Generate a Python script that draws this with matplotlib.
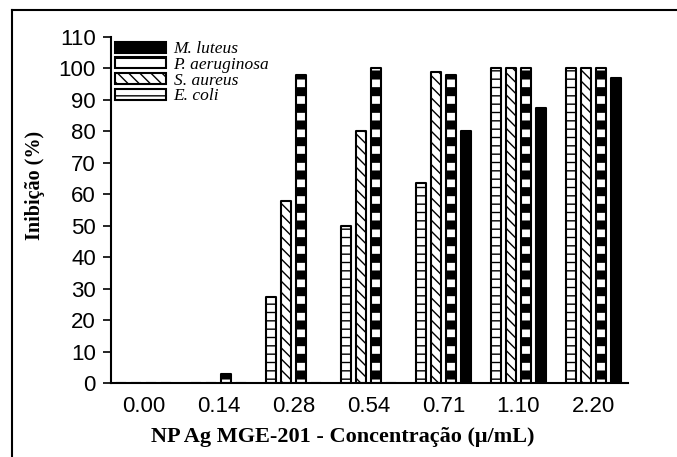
import matplotlib
matplotlib.use("Agg")
import matplotlib.pyplot as plt
from matplotlib.lines import Line2D
import numpy as np

# concentrations on the x axis and inhibition (%) for each strain
concs = ["0.00", "0.14", "0.28", "0.54", "0.71", "1.10", "2.20"]
e_coli = [0, 0, 27.5, 50, 63.5, 100, 100]
s_aureus = [0, 0, 58, 80, 99, 100, 100]
p_aeruginosa = [0, 3, 98, 100, 98, 100, 100]
m_luteus = [0, 0, 0, 0, 80, 87.5, 97]

names = ["E. coli", "S. aureus", "P. aeruginosa", "M. luteus"]
yticks = list(range(0, 111, 10))

plt.rcParams["font.family"] = ["Liberation Sans", "DejaVu Sans"]
plt.rcParams["hatch.linewidth"] = 1.0

fig = plt.figure(figsize=(6.77, 4.57), dpi=100)
ax = fig.add_axes([0.164, 0.1619, 0.7636, 0.7571])

x = np.arange(len(concs))
w = 0.125
off = [-0.3, -0.1, 0.1, 0.3]
kw = dict(edgecolor="black", linewidth=1.5, joinstyle="round", capstyle="round")

b1 = ax.bar(x + off[0], e_coli, w, facecolor="white", hatch="--", **kw)
b2 = ax.bar(x + off[1], s_aureus, w, facecolor="white", hatch="\\\\\\", **kw)
with plt.rc_context({"hatch.linewidth": 6.5}):
    b3 = ax.bar(x + off[2], p_aeruginosa, w, facecolor="white", hatch="-", **kw)
    for p in b3:
        if hasattr(p, "set_hatch_linewidth"):
            p.set_hatch_linewidth(6.5)
b4 = ax.bar(x + off[3], m_luteus, w, facecolor="black", **kw)

ax.set_xlim(-0.433, 6.46)
ax.set_ylim(0, 110)
ax.set_yticks(yticks)
ax.set_xticks(x)
ax.set_xticklabels(concs)
ax.tick_params(axis="x", length=0, pad=9, labelsize=16)
ax.tick_params(axis="y", direction="out", length=6, width=1.2, pad=5, labelsize=16)

for s in ["top", "right"]:
    ax.spines[s].set_visible(False)
for s in ["left", "bottom"]:
    ax.spines[s].set_linewidth(1.5)

fig.text(0.507, 0.044, "NP Ag MGE-201 - Concentração (\u03bc/mL)", ha="center", va="center",
         fontsize=16, fontweight="bold", family=["Liberation Serif", "DejaVu Serif"])
fig.text(0.052, 0.595, "Inibição (%)", ha="center", va="center", rotation=90,
         fontsize=14.5, fontweight="bold", family=["Liberation Serif", "DejaVu Serif"])

leg = ax.legend([b4, b3, b2, b1], names[::-1], loc="upper left",
                bbox_to_anchor=(0.0, 1.0), frameon=False,
                prop={"family": "Liberation Serif", "style": "italic", "size": 12.5},
                handlelength=2.9, handleheight=0.6, handletextpad=0.45,
                labelspacing=-0.02, borderaxespad=0.1, borderpad=0.15)

# outer frame around the figure
fig.add_artist(Line2D([0.0177, 0.0177], [0.0, 0.978], color="black", lw=1.5,
                      transform=fig.transFigure))
fig.add_artist(Line2D([0.0177, 1.0], [0.978, 0.978], color="black", lw=1.5,
                      transform=fig.transFigure))

fig.savefig("out.png", dpi=100)
